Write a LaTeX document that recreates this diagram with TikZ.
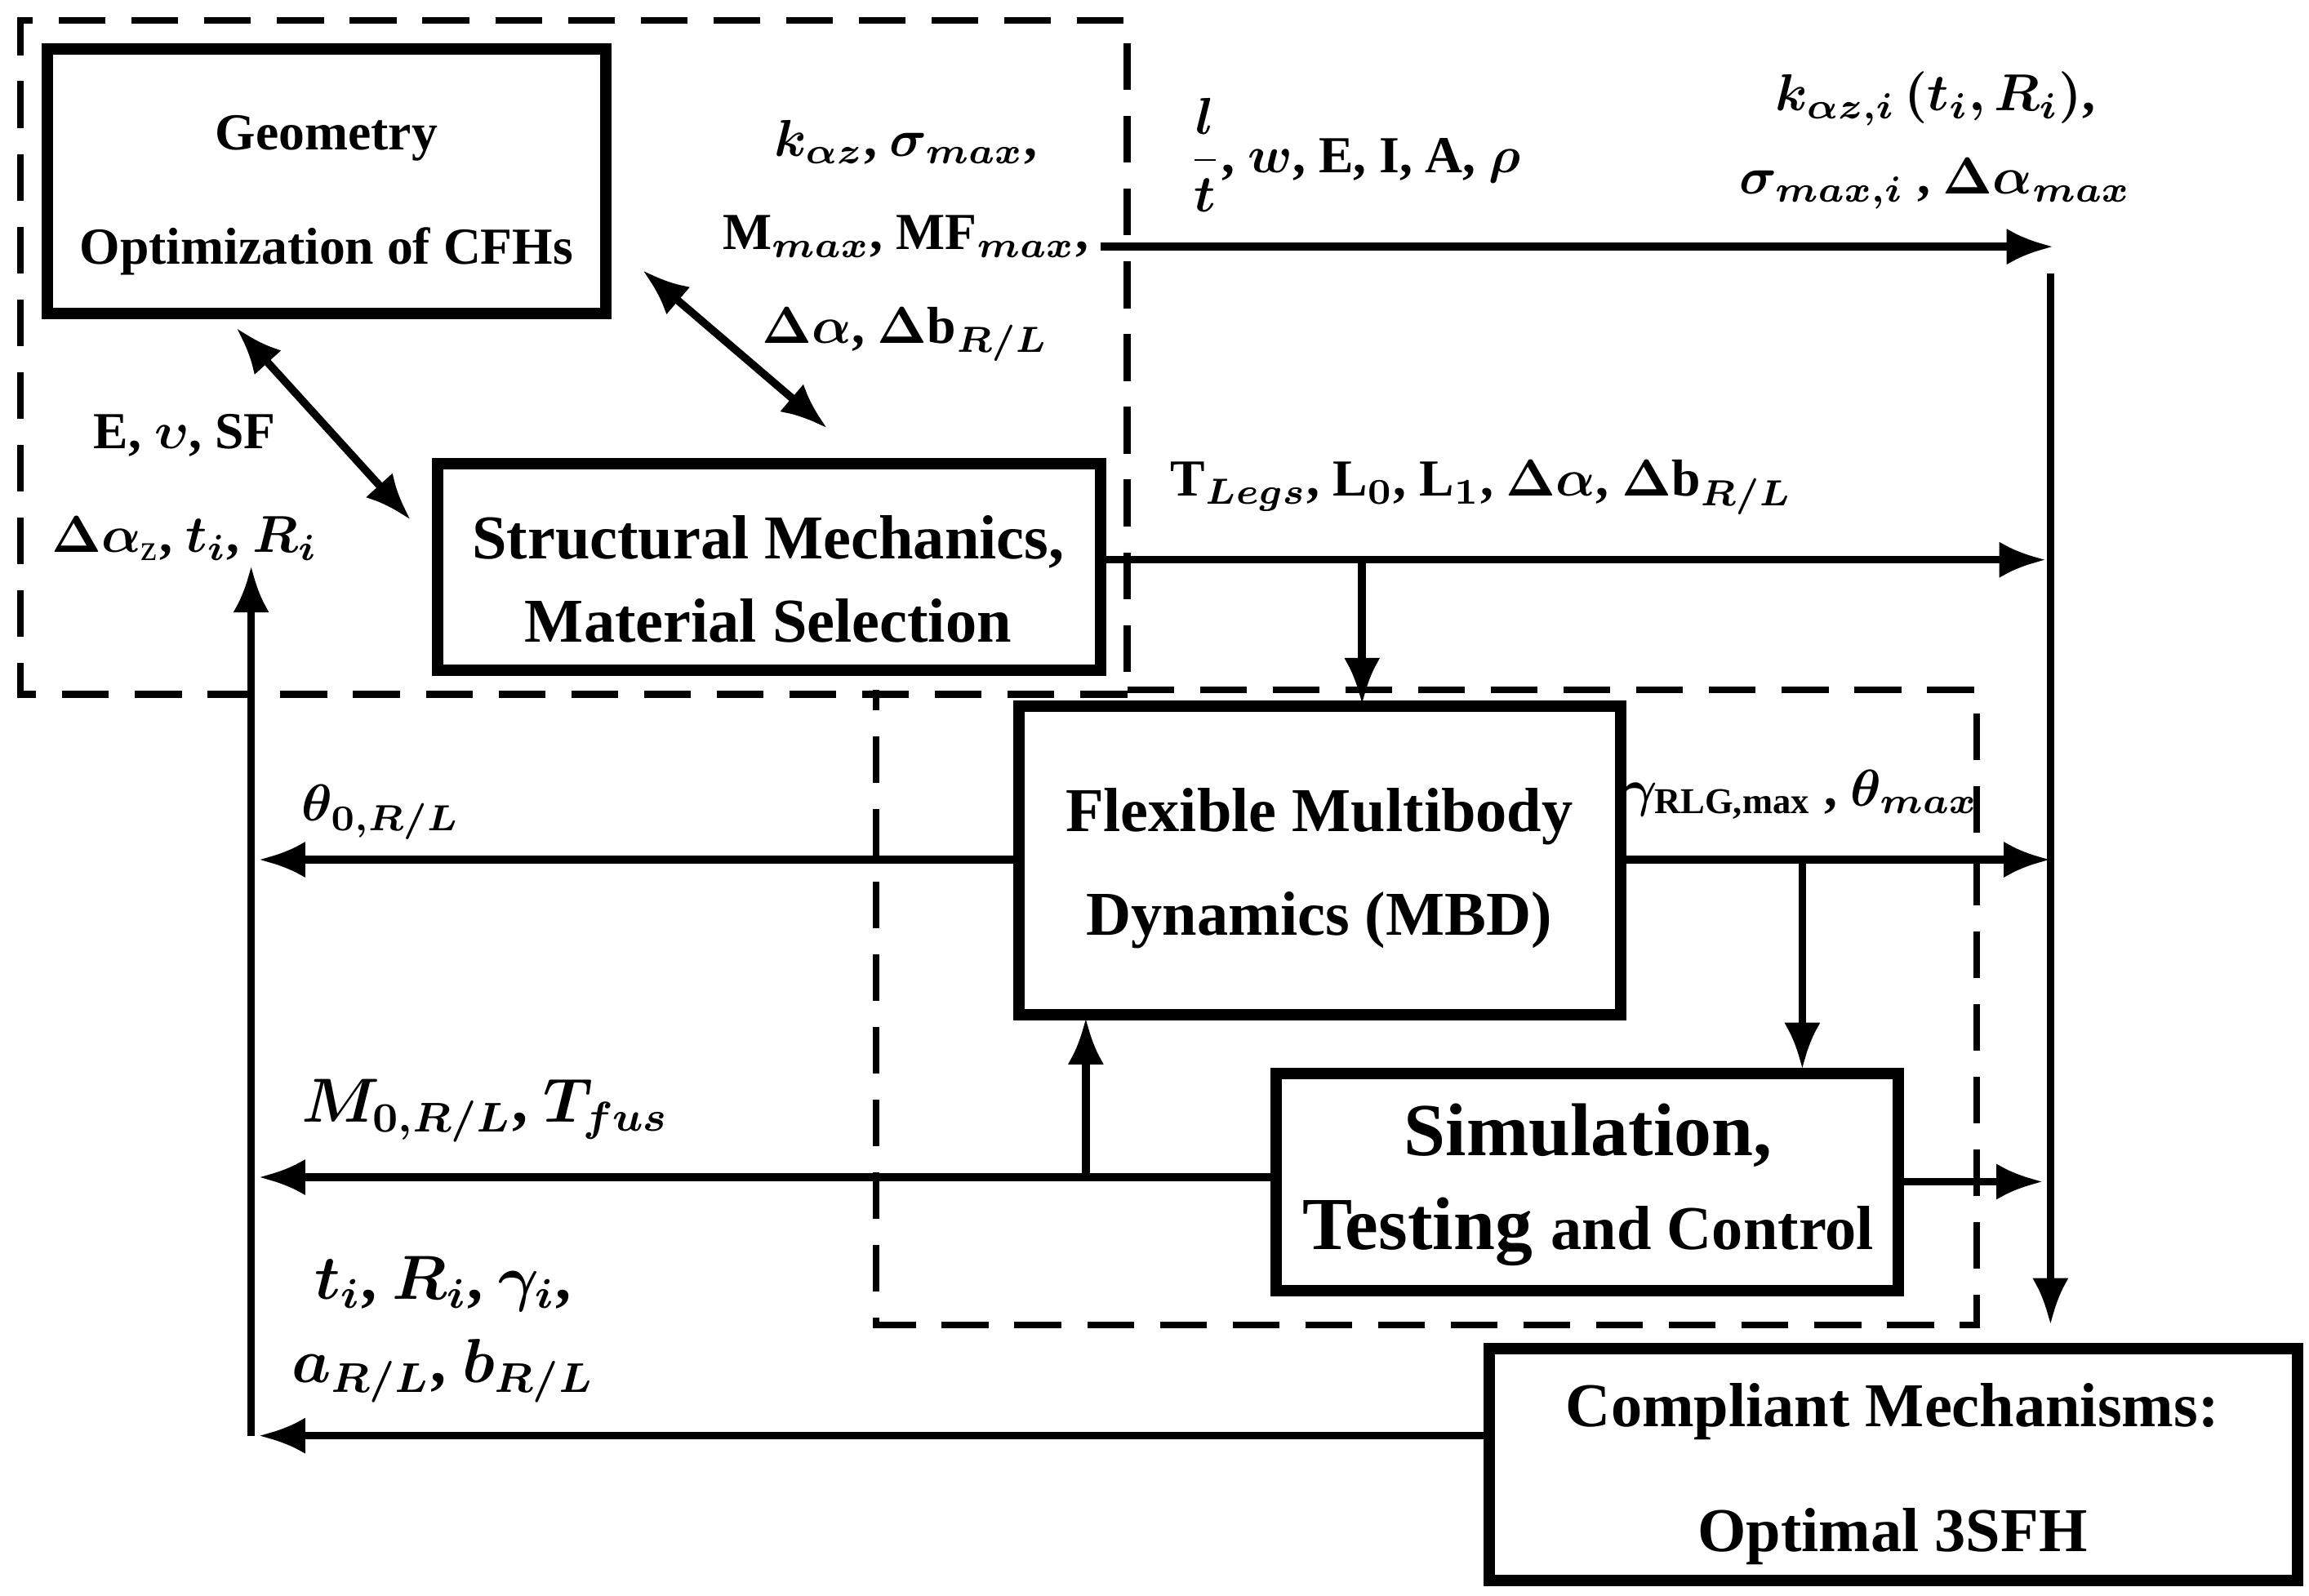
\documentclass[tikz,border=0pt]{standalone}
\usepackage{amsmath,bm}
\usepackage{fontspec}
\setmainfont{Liberation Serif}
\usetikzlibrary{arrows.meta}
\begin{document}
\begin{tikzpicture}[x=0.01cm,y=-0.01cm,font=\bfseries,
 box/.style={draw,line width=2.2pt,inner sep=0pt},
 dashbox/.style={draw,line width=1.3pt,dash pattern=on 9pt off 5pt},
 ar/.style={line width=1.5pt,-{Latex[length=9pt,width=7pt]}},
 dar/.style={line width=1.5pt,{Latex[length=9pt,width=7pt]}-{Latex[length=9pt,width=7pt]}},
 lb/.style={align=center,inner sep=1pt}]
\useasboundingbox (0,0) rectangle (1563,1080);
% dashed regions
\draw[dashbox] (763,470) -- (14,470) -- (14,14) -- (763,14) -- (763,467);
\draw[dashbox] (763,467) -- (1338,467) -- (1338,897) -- (593,897) -- (593,467);
% boxes
\draw[box] (32,33) rectangle (410,212);
\node[lb] (geo) at (221,132) {Geometry\\[10pt]Optimization of CFHs};
\draw[box] (296,314) rectangle (745,454);
\node[lb,font=\bfseries\large] (str) at (520,392) {Structural Mechanics,\\[2pt]Material Selection};
\draw[box] (690,478) rectangle (1097,687);
\node[lb,font=\bfseries\large] (mbd) at (893,588) {Flexible Multibody\\[6pt]Dynamics (MBD)};
\draw[box] (864,727) rectangle (1285,874);
\node[lb,font=\bfseries\Large] (sim) at (1075,802) {Simulation,\\Testing {\large and Control}};
\draw[box] (1008,913) rectangle (1555,1070);
\node[lb,font=\bfseries\large] (cm) at (1281,998) {Compliant Mechanisms:\\[10pt]Optimal 3SFH};
% coordinates
\coordinate (t1) at (745,167); \coordinate (t2) at (1390,167);
\coordinate (v1) at (1388,185); \coordinate (v2) at (1388,897);
\coordinate (s1) at (745,379); \coordinate (s2) at (1385,379);
\coordinate (s3) at (922,379); \coordinate (s4) at (922,477);
\coordinate (m1) at (1097,582); \coordinate (m2) at (1388,582);
\coordinate (m3) at (1220,582); \coordinate (m4) at (1220,724);
\coordinate (q1) at (1285,800); \coordinate (q2) at (1383,800);
\coordinate (m5) at (690,582); \coordinate (m6) at (175,582);
\coordinate (q3) at (864,797); \coordinate (q4) at (175,797);
\coordinate (q5) at (735,797); \coordinate (q6) at (735,689);
\coordinate (c1) at (1008,972); \coordinate (c2) at (175,972);
\coordinate (u1) at (170,972); \coordinate (u2) at (170,383);
\coordinate (d1) at (160,222); \coordinate (d2) at (278,352);
\coordinate (d3) at (435,183); \coordinate (d4) at (560,290);
% connectors
\draw[ar] (t1) -- (t2);
\draw[ar] (v1) -- (v2);
\draw[ar] (s1) -- (s2);
\draw[ar] (s3) -- (s4);
\draw[ar] (m1) -- (m2);
\draw[ar] (m3) -- (m4);
\draw[ar] (q1) -- (q2);
\draw[ar] (m5) -- (m6);
\draw[ar] (q3) -- (q4);
\draw[ar] (q5) -- (q6);
\draw[ar] (c1) -- (c2);
\draw[ar] (u1) -- (u2);
\draw[dar] (d1) -- (d2);
\draw[dar] (d3) -- (d4);
% labels
\node[lb,anchor=west] (L1) at (800,105) {$\boldsymbol{\dfrac{l}{t}}$, $\boldsymbol{w}$, E, I, A, $\boldsymbol{\rho}$};
\node[lb] (L2) at (1310,95) {$\boldsymbol{k_{\alpha z,i}\,(t_i,R_i)}$,\\[4pt]$\boldsymbol{\sigma_{max,i}}$ , $\boldsymbol{\Delta\alpha_{max}}$};
\node[lb] (L3) at (613,163) {$\boldsymbol{k_{\alpha z}}$, $\boldsymbol{\sigma_{max}}$,\\[6pt]M$_{\boldsymbol{max}}$, MF$_{\boldsymbol{max}}$,\\[6pt]$\boldsymbol{\Delta\alpha}$, $\boldsymbol{\Delta}$b$_{\boldsymbol{R/L}}$};
\node[lb] (L4) at (125,330) {E, $\boldsymbol{\upsilon}$, SF\\[8pt]$\boldsymbol{\Delta\alpha}_{\mathrm z}$, $\boldsymbol{t_i}$, $\boldsymbol{R_i}$};
\node[lb,anchor=west] (L5) at (788,330) {T$_{\boldsymbol{Legs}}$, L$_{\boldsymbol 0}$, L$_{\boldsymbol 1}$, $\boldsymbol{\Delta\alpha}$, $\boldsymbol{\Delta}$b$_{\boldsymbol{R/L}}$};
\node[lb,anchor=west] (L6) at (1095,538) {$\boldsymbol{\gamma}_{\textbf{RLG,max}}$ , $\boldsymbol{\theta_{max}}$};
\node[lb,anchor=west] (L7) at (200,550) {$\boldsymbol{\theta}_{\boldsymbol{0,R/L}}$};
\node[lb,anchor=west,font=\bfseries\large] (L8) at (200,752) {$\boldsymbol{M_{0,R/L}}$, $\boldsymbol{T_{fus}}$};
\node[lb,font=\bfseries\large] (L9) at (300,900) {$\boldsymbol{t_i}$, $\boldsymbol{R_i}$, $\boldsymbol{\gamma_i}$,\\[2pt]$\boldsymbol{a_{R/L}}$, $\boldsymbol{b_{R/L}}$};
\end{tikzpicture}
\end{document}
